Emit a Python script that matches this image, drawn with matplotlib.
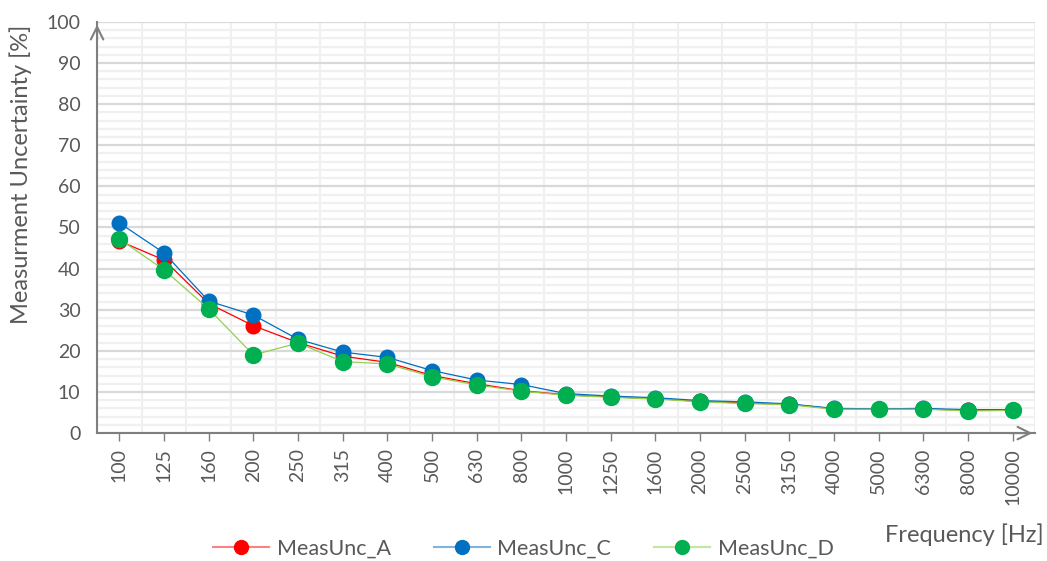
import matplotlib.pyplot as plt
from matplotlib.lines import Line2D
import numpy as np

freqs = ["100", "125", "160", "200", "250", "315", "400", "500", "630", "800",
         "1000", "1250", "1600", "2000", "2500", "3150", "4000", "5000", "6300", "8000", "10000"]

meas_a = [46.7, 42.1, 31.5, 26.1, 22.0, 18.7, 17.2, 14.0, 12.0, 10.3,
          9.3, 8.8, 8.4, 7.7, 7.3, 7.0, 5.9, 5.8, 5.9, 5.5, 5.6]
meas_c = [51.1, 43.8, 32.1, 28.7, 22.8, 19.7, 18.4, 15.2, 12.9, 11.8,
          9.6, 9.0, 8.6, 7.9, 7.6, 7.1, 6.0, 5.9, 6.0, 5.7, 5.7]
meas_d = [47.2, 39.7, 30.2, 19.0, 21.9, 17.4, 16.8, 13.7, 11.7, 10.2,
          9.2, 8.7, 8.3, 7.6, 7.2, 6.9, 5.8, 5.8, 5.8, 5.4, 5.5]

font = "Lato"
txt = "#595959"

fig = plt.figure(figsize=(10.47, 5.61), dpi=100)
ax = fig.add_axes([0.0927, 0.228, 0.896, 0.733])

x = np.arange(len(freqs))
ax.plot(x, meas_a, color="#ff0000", lw=0.9, marker="o", ms=10.5,
        mfc="#ff0000", mec="#ff0000", zorder=3)
ax.plot(x, meas_c, color="#0070c0", lw=0.9, marker="o", ms=10.5,
        mfc="#0070c0", mec="#0070c0", zorder=4)
ax.plot(x, meas_d, color="#92d050", lw=0.9, marker="o", ms=11.5,
        mfc="#00b050", mec="#00b050", zorder=5)

ax.set_xlim(-0.5, len(freqs) - 0.5)
ax.set_ylim(0, 100)
ax.set_yticks(range(0, 101, 10))
ax.set_yticks(range(0, 101, 2), minor=True)
ax.set_xticks(x)
ax.set_xticks(np.arange(-0.5, len(freqs), 0.5), minor=True)
ax.set_xticklabels(freqs, rotation=90, fontsize=14, color=txt, family=font)
for lab in ax.get_yticklabels():
    lab.set_fontsize(14)
    lab.set_color(txt)
    lab.set_family(font)

ax.grid(which="minor", axis="both", color="#f0f0f0", lw=1.6, zorder=0)
ax.grid(which="major", axis="y", color="#d9d9d9", lw=1.6, zorder=1)
ax.set_axisbelow(True)

ax.tick_params(axis="y", which="both", length=0, pad=12)
ax.tick_params(axis="x", which="major", length=6, width=1, color="#7f7f7f",
               direction="out", pad=5)
ax.tick_params(axis="x", which="minor", length=0)

for s in ["top", "right"]:
    ax.spines[s].set_visible(False)
for s in ["left", "bottom"]:
    ax.spines[s].set_color("#7f7f7f")
    ax.spines[s].set_linewidth(1.5)

# arrow heads on the two axes
ax.annotate("", xy=(0, 1.0), xytext=(0, 0.95), xycoords="axes fraction",
            arrowprops=dict(arrowstyle="->,head_length=0.9,head_width=0.45",
                            color="#7f7f7f", lw=1.5), annotation_clip=False)
ax.annotate("", xy=(1.0, 0), xytext=(0.97, 0), xycoords="axes fraction",
            arrowprops=dict(arrowstyle="->,head_length=0.9,head_width=0.45",
                            color="#7f7f7f", lw=1.5), annotation_clip=False)

ax.set_ylabel("Measurment Uncertainty [%]", fontsize=17, color=txt, family=font)
ax.yaxis.set_label_coords(-0.069, 0.628)
fig.text(0.997, 1 - 535 / 561, "Frequency [Hz]", ha="right", va="center",
         fontsize=17, color=txt, family=font)

handles = [
    Line2D([], [], color="#ff8080", lw=1.5, marker="o", ms=10, mfc="#ff0000", mec="#ff0000"),
    Line2D([], [], color="#7fb3e0", lw=1.5, marker="o", ms=10, mfc="#0070c0", mec="#0070c0"),
    Line2D([], [], color="#c5e6a0", lw=1.5, marker="o", ms=10, mfc="#00b050", mec="#00b050"),
]
leg = fig.legend(handles, ["MeasUnc_A", "MeasUnc_C", "MeasUnc_D"], loc="center",
                 bbox_to_anchor=(0.5, 1 - 549 / 561), ncol=3, frameon=False,
                 handlelength=2.6, columnspacing=2.0, handletextpad=0.35,
                 prop={"family": font, "size": 15.5})
for t in leg.get_texts():
    t.set_color(txt)

fig.savefig("out.png", dpi=100)
